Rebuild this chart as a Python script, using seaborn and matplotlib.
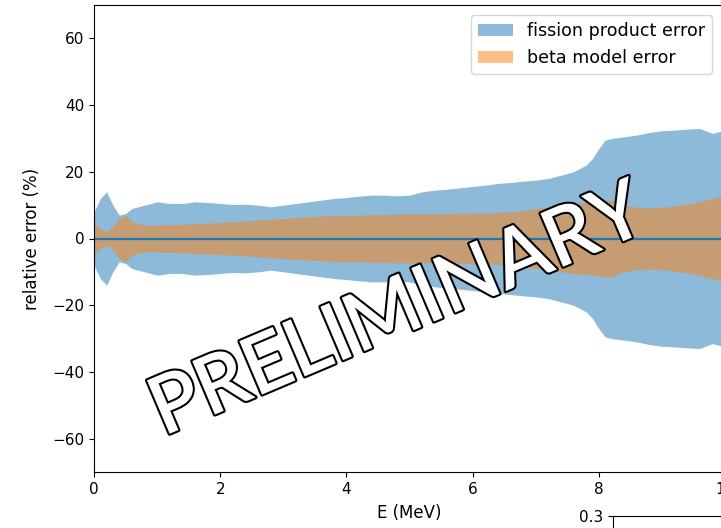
import numpy as np
import seaborn as sns
import matplotlib
matplotlib.use("Agg")
import matplotlib.pyplot as plt
import matplotlib.patheffects as pe

# energy grid (MeV) and half-widths of the error bands (%)
energy = [0.0, 0.1, 0.2, 0.3, 0.4, 0.5, 0.6, 0.8, 1.0, 1.2, 1.4, 1.6, 1.8, 2.0,
          2.2, 2.4, 2.6, 2.8, 3.0, 3.2, 3.4, 3.6, 3.8, 4.0, 4.2, 4.4, 4.6, 4.8,
          5.0, 5.2, 5.4, 5.6, 5.8, 6.0, 6.2, 6.4, 6.6, 6.8, 7.0, 7.2, 7.4, 7.6,
          7.8, 7.9, 8.0, 8.1, 8.2, 8.4, 8.6, 8.8, 9.0, 9.2, 9.4, 9.6, 9.8, 10.0]
fission_err = [8, 12, 14, 10, 7, 7.5, 9, 10, 11, 10.5, 10.5, 11, 10.8, 10.5,
               10.2, 10.3, 10, 9.5, 10, 10.5, 11, 11.5, 12, 12.3, 12.7, 13, 13, 12.8,
               13, 14, 14.5, 14.8, 15.2, 15.6, 16, 16.5, 16.8, 17.2, 17.5, 18, 19, 20,
               22, 24, 27, 29.5, 30, 30.5, 31, 31.8, 32.3, 32.5, 32.8, 33, 31.5, 32.5]
beta_err = [4.5, 3, 2, 3.5, 6, 7, 5, 4, 4, 4.2, 4.3, 4.5, 4.6, 4.8,
            5, 5.3, 5.5, 5.8, 6, 6.3, 6.5, 6.7, 6.9, 7, 7, 7.2, 7.2, 7.3,
            7.3, 7.3, 7.4, 7.5, 7.5, 7.6, 7.6, 7.8, 8, 8.3, 9, 9.5, 10, 10.5,
            10.8, 11, 11.2, 11.5, 11.5, 10, 9.4, 9.2, 9.3, 9.8, 10.3, 11, 12, 13]
central = [0.0] * len(energy)

E = np.array(energy)
fp = np.array(fission_err)
bm = np.array(beta_err)
colors = sns.color_palette("tab10")

plt.rcParams["xtick.labelsize"] = 11
plt.rcParams["ytick.labelsize"] = 11
plt.rcParams["axes.labelsize"] = 12

fig = plt.figure(figsize=(7.21, 5.28), dpi=100)
ax = fig.add_axes([94 / 721, 56 / 528, 631 / 721, 467 / 528])

h1 = ax.fill_between(E, -fp, fp, color=colors[0], alpha=0.5, lw=0,
                     label="fission product error")
h2 = ax.fill_between(E, -bm, bm, color=colors[1], alpha=0.5, lw=0,
                     label="beta model error")
sns.lineplot(x=energy, y=central, ax=ax, color=colors[0], lw=1.6)

ax.set_xlim(0, 10)
ax.set_ylim(-70, 70)
ax.set_yticks([-60, -40, -20, 0, 20, 40, 60])
ax.set_xlabel("E (MeV)", labelpad=5)
ax.set_ylabel("relative error (%)", labelpad=8)
ax.legend(handles=[h1, h2], loc="upper right", fontsize=12.6,
          bbox_to_anchor=(712 / 721, 1 - 15 / 528),
          bbox_transform=fig.transFigure, borderaxespad=0)

# second panel below, mostly out of frame
ax2 = fig.add_axes([613 / 721, 12 / 528 - 0.3, 0.3, 0.3])
ax2.set_ylim(0, 0.3)
ax2.set_yticks([0.1, 0.2, 0.3])
ax2.set_xticks([])

fig.text(407 / 721, 1 - 333 / 528, "PRELIMINARY", rotation=23,
         rotation_mode="anchor", ha="center", va="baseline", fontsize=58,
         family="Lato", fontweight="semibold", color="white", zorder=10,
         path_effects=[pe.withStroke(linewidth=3, foreground="black")])

fig.savefig("out.png", dpi=100)
